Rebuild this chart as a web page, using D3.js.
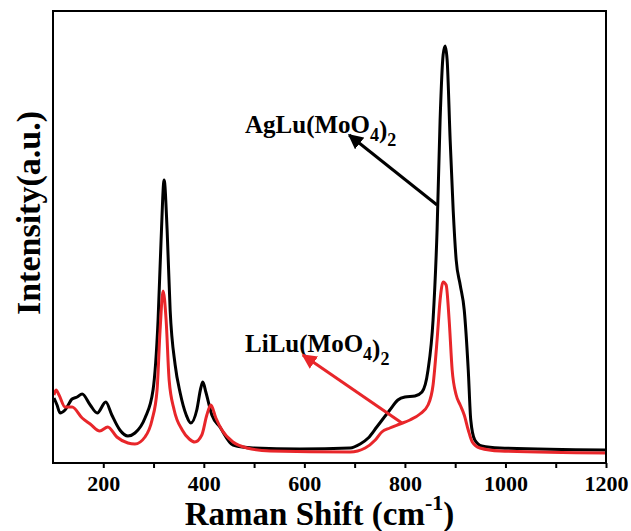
<!DOCTYPE html>
<html lang="en">
<head>
    <meta charset="UTF-8">
    <title>Raman spectra</title>
    <script src="https://d3js.org/d3.v7.min.js"></script>
    <style>
        body { margin: 0; background: #fff; }
        text { font-family: "Liberation Serif", "Times New Roman", serif; font-weight: bold; }
    </style>
</head>
<body>
<div id="chart"></div>
<script>
    // ---- data (wavenumber in cm-1, intensity in a.u.) ----
    var agluShift = [102, 108, 114, 124, 138, 148, 158, 174, 188, 205, 217, 233, 249, 263, 283, 299, 309, 315, 321, 327, 333, 343, 353, 365, 374, 386, 394, 398, 404, 416, 432, 458, 498, 591, 691, 711, 727, 744, 770, 786, 800, 820, 834, 846, 856, 864, 870, 876, 880, 884, 890, 896, 902, 910, 918, 926, 931, 939, 953, 989, 1198];
    var agluIntensity = [65, 58, 50, 53, 64, 66, 69, 58, 50, 61, 48, 33, 27, 30, 45, 73, 143, 223, 283, 233, 153, 98, 70, 48, 40, 53, 75, 81, 71, 48, 36, 18, 15, 14, 15, 19, 25, 36, 53, 63, 66, 67, 71, 93, 143, 233, 343, 408, 417, 403, 323, 253, 203, 178, 153, 93, 43, 23, 17, 15, 13];

    var liluShift = [102, 106, 112, 124, 138, 158, 174, 193, 209, 227, 249, 263, 283, 297, 307, 313, 319, 325, 331, 341, 357, 371, 382, 396, 406, 414, 424, 436, 458, 486, 532, 691, 721, 741, 754, 770, 790, 810, 830, 846, 856, 864, 870, 876, 882, 888, 894, 902, 910, 918, 926, 934, 949, 989, 1198];
    var liluIntensity = [68, 73, 68, 56, 56, 45, 39, 32, 36, 26, 20, 19, 26, 43, 73, 133, 172, 143, 83, 53, 33, 24, 21, 28, 48, 58, 45, 33, 21, 15, 12, 11, 15, 23, 31, 35, 39, 43, 49, 58, 78, 123, 163, 181, 178, 143, 93, 68, 58, 48, 33, 21, 15, 12, 10];

    var xTicks = [200, 300, 400, 500, 600, 700, 800, 900, 1000, 1100, 1200];
    var xTickLabels = [200, 400, 600, 800, 1000, 1200];

    var svgWidth = 631, svgHeight = 531;
    var margin = { top: 11, right: 25, bottom: 68, left: 53 },
        width = svgWidth - margin.left - margin.right,
        height = svgHeight - margin.top - margin.bottom;

    var svg = d3.select("#chart")
        .append("svg")
        .attr("width", svgWidth)
        .attr("height", svgHeight)
        .append("g")
        .attr("transform", "translate(" + margin.left + "," + margin.top + ")");

    var x = d3.scaleLinear().domain([100, 1200]).range([0, width]);
    var y = d3.scaleLinear().domain([0, 452]).range([height, 0]);

    // arrow heads
    var defs = svg.append("defs");
    [["headBlack", "#000"], ["headRed", "#e8262a"]].forEach(function (m) {
        defs.append("marker")
            .attr("id", m[0])
            .attr("viewBox", "0 0 10 10")
            .attr("refX", 9)
            .attr("refY", 5)
            .attr("markerWidth", 5)
            .attr("markerHeight", 5)
            .attr("markerUnits", "strokeWidth")
            .attr("orient", "auto")
            .append("path")
            .attr("d", "M0,0 L10,5 L0,10 z")
            .attr("fill", m[1]);
    });

    // curves
    var line = d3.line()
        .x(function (d) { return x(d[0]); })
        .y(function (d) { return y(d[1]); })
        .curve(d3.curveMonotoneX);

    var agluData = agluShift.map(function (d, i) { return [d, agluIntensity[i]]; });
    var liluData = liluShift.map(function (d, i) { return [d, liluIntensity[i]]; });

    svg.append("path")
        .datum(agluData)
        .attr("d", line)
        .attr("fill", "none")
        .attr("stroke", "#000")
        .attr("stroke-width", 3);

    svg.append("path")
        .datum(liluData)
        .attr("d", line)
        .attr("fill", "none")
        .attr("stroke", "#e8262a")
        .attr("stroke-width", 3);

    // frame
    svg.append("rect")
        .attr("width", width)
        .attr("height", height)
        .attr("fill", "none")
        .attr("stroke", "#000")
        .attr("stroke-width", 2);

    // x axis
    var xAxis = svg.append("g")
        .attr("transform", "translate(0," + height + ")")
        .call(d3.axisBottom(x)
            .tickValues(xTicks)
            .tickSize(5)
            .tickFormat(function (d) { return xTickLabels.indexOf(d) >= 0 ? d : ""; }));
    xAxis.select(".domain").remove();
    xAxis.selectAll("line").attr("stroke-width", 2);
    xAxis.selectAll("text")
        .attr("y", 12)
        .attr("dy", "0.71em")
        .style("font-family", "'Liberation Serif', serif")
        .style("font-weight", "bold")
        .style("font-size", "22px")
        .attr("fill", "#000");

    // axis titles
    var xTitle = svg.append("text")
        .attr("x", width / 2 - 10)
        .attr("y", height + 62)
        .attr("text-anchor", "middle")
        .style("font-size", "33px");
    xTitle.append("tspan").text("Raman Shift (cm");
    xTitle.append("tspan").attr("dy", -15).style("font-size", "22px").text("-1");
    xTitle.append("tspan").attr("dy", 15).text(")");

    svg.append("text")
        .attr("transform", "translate(-13," + (height / 2 - 24) + ") rotate(-90)")
        .attr("text-anchor", "middle")
        .style("font-size", "34px")
        .text("Intensity(a.u.)");

    // annotations
    function label(xv, yv, name) {
        var t = svg.append("text")
            .attr("x", x(xv))
            .attr("y", y(yv))
            .style("font-size", "25px");
        t.append("tspan").text(name + "(MoO");
        t.append("tspan").attr("dy", 8).style("font-size", "18px").text("4");
        t.append("tspan").attr("dy", -3).text(")");
        t.append("tspan").attr("dy", 8).style("font-size", "18px").text("2");
    }
    label(482, 330, "AgLu");
    label(482, 111, "LiLu");

    svg.append("line")
        .attr("x1", x(864)).attr("y1", y(258))
        .attr("x2", x(689)).attr("y2", y(328))
        .attr("stroke", "#000")
        .attr("stroke-width", 3)
        .attr("marker-end", "url(#headBlack)");

    svg.append("line")
        .attr("x1", x(794)).attr("y1", y(40))
        .attr("x2", x(597)).attr("y2", y(108))
        .attr("stroke", "#e8262a")
        .attr("stroke-width", 3)
        .attr("marker-end", "url(#headRed)");
</script>
</body>
</html>
